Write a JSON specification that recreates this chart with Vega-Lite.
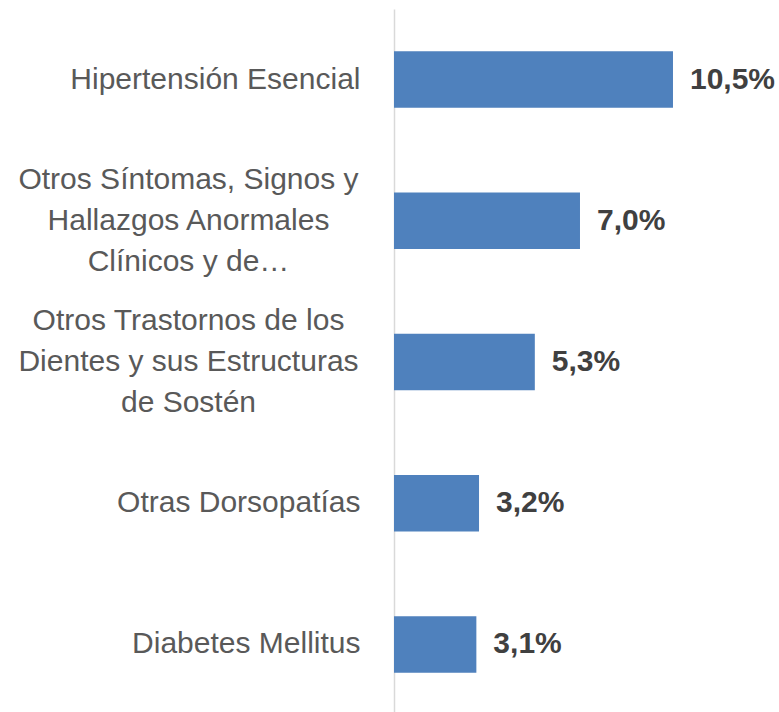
{
  "$schema": "https://vega.github.io/schema/vega-lite/v6.json",
  "autosize": "none",
  "width": 385,
  "height": 706,
  "padding": {"left": 394, "top": 9, "right": 0, "bottom": 0},
  "background": "white",
  "config": {
    "view": {"stroke": null},
    "locale": {"number": {"decimal": ",", "thousands": ".", "grouping": [3], "currency": ["", " €"]}}
  },
  "data": {
    "values": [
      {"cat": "Hipertensión Esencial", "value": 0.105},
      {"cat": "Otros Síntomas, Signos y|Hallazgos Anormales|Clínicos y de…", "value": 0.070},
      {"cat": "Otros Trastornos de los|Dientes y sus Estructuras|de Sostén", "value": 0.053},
      {"cat": "Otras Dorsopatías", "value": 0.032},
      {"cat": "Diabetes Mellitus", "value": 0.031}
    ]
  },
  "encoding": {
    "y": {
      "field": "cat",
      "type": "nominal",
      "sort": null,
      "scale": {"paddingInner": 0.6, "paddingOuter": 0.3},
      "axis": {
        "title": null,
        "ticks": false,
        "grid": false,
        "domain": true,
        "domainColor": "#d9d9d9",
        "domainWidth": 1.5,
        "labelFont": "Liberation Sans",
        "labelFontSize": 30,
        "labelColor": "#595959",
        "labelLineHeight": 41,
        "labelLimit": 400,
        "labelExpr": "split(datum.value, '|')",
        "labelAlign": {"condition": {"test": "indexof(datum.value, '|') >= 0", "value": "center"}, "value": "right"},
        "labelPadding": {"condition": {"test": "indexof(datum.value, '|') >= 0", "value": 206}, "value": 34},
        "labelOffset": {"condition": {"test": "indexof(datum.value, '|') >= 0", "value": -41}, "value": 0}
      }
    },
    "x": {
      "field": "value",
      "type": "quantitative",
      "scale": {"domain": [0, 0.1449], "nice": false},
      "axis": null
    }
  },
  "layer": [
    {"mark": {"type": "bar", "color": "#4f81bd"}},
    {
      "mark": {"type": "text", "align": "left", "baseline": "middle", "dx": 17, "font": "Liberation Sans", "fontSize": 30, "fontWeight": "bold", "color": "#404040"},
      "encoding": {"text": {"field": "value", "type": "quantitative", "format": ".1%"}}
    }
  ]
}
